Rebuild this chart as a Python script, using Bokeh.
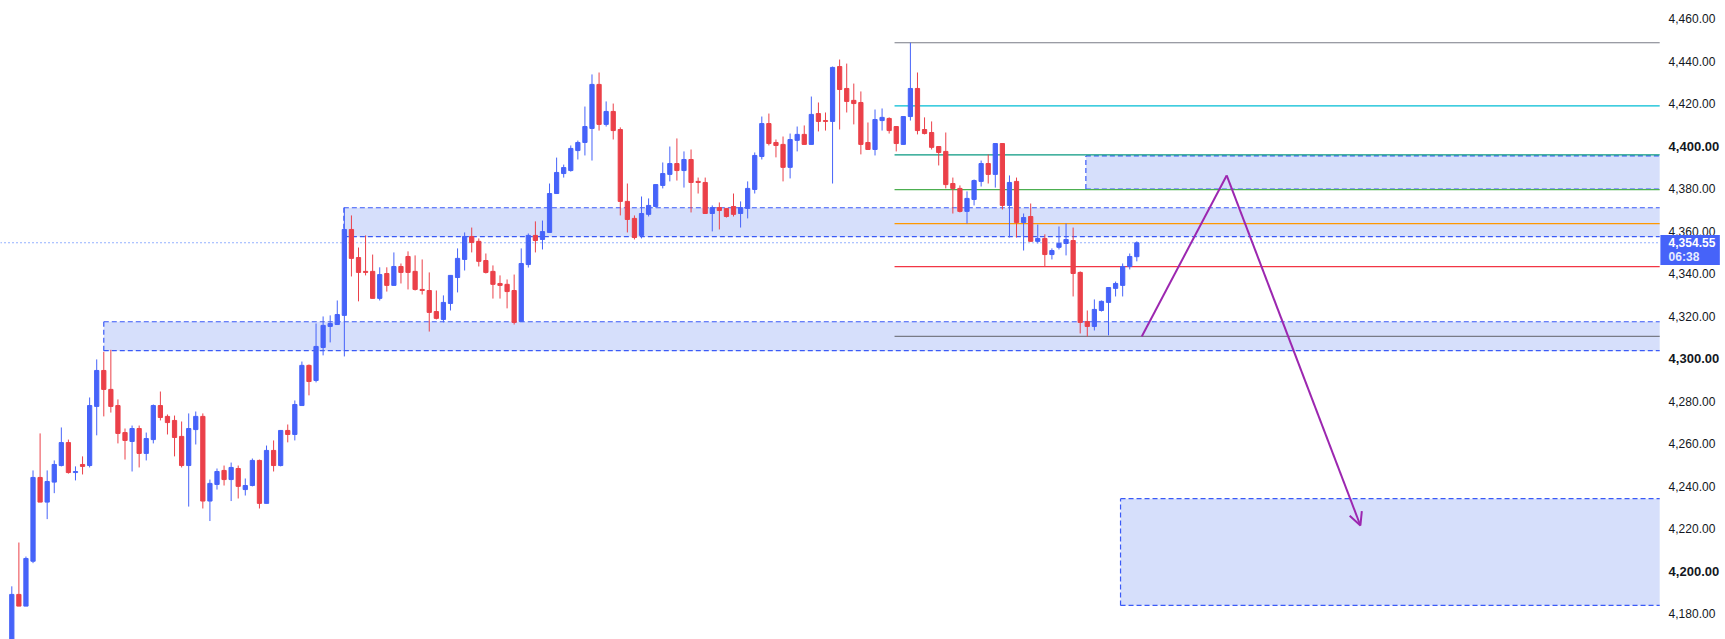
from bokeh.plotting import figure
from bokeh.models import Range1d, Arrow, OpenHead, ColumnDataSource
from bokeh.core.properties import value
from bokeh.embed import file_html
from bokeh.resources import INLINE

# ---------------- data ----------------
opens = [4163.0, 4189.2, 4183.7, 4204.8, 4244.2, 4232.6, 4242.0, 4249.8, 4260.6, 4246.5,
         4250.3, 4249.8, 4277.6, 4294.5, 4285.6, 4278.0, 4265.3, 4261.1, 4267.2, 4255.5,
         4262.0, 4278.0, 4272.9, 4271.0, 4263.5, 4249.8, 4266.7, 4272.9, 4233.1, 4240.9,
         4247.5, 4243.2, 4248.4, 4238.5, 4240.4, 4252.2, 4232.0, 4256.9, 4249.8, 4266.3,
         4264.4, 4278.0, 4296.9, 4289.8, 4305.3, 4315.2, 4316.1, 4320.4, 4360.8, 4347.6,
         4341.1, 4341.1, 4328.4, 4340.1, 4334.5, 4343.4, 4348.1, 4341.1, 4332.6, 4332.1,
         4322.2, 4318.5, 4326.0, 4338.2, 4346.7, 4357.5, 4355.2, 4346.2, 4341.1, 4335.4,
         4335.0, 4332.1, 4317.5, 4344.3, 4358.0, 4356.1, 4359.4, 4377.7, 4387.1, 4388.5,
         4397.9, 4401.7, 4408.3, 4429.0, 4410.2, 4416.3, 4407.8, 4374.0, 4366.0, 4358.0,
         4367.9, 4371.6, 4381.5, 4386.7, 4391.8, 4388.5, 4393.7, 4383.4, 4382.9, 4368.3,
         4371.1, 4370.7, 4371.6, 4368.3, 4370.7, 4379.6, 4395.1, 4410.6, 4401.7, 4400.8,
         4390.0, 4402.7, 4405.5, 4400.8, 4415.3, 4412.0, 4411.6, 4437.4, 4427.1, 4421.5,
         4420.5, 4401.7, 4398.4, 4412.0, 4413.0, 4409.2, 4400.8, 4413.9, 4427.1, 4407.8,
         4406.4, 4399.8, 4397.5, 4382.4, 4380.1, 4369.3, 4374.9, 4383.4, 4391.8, 4386.7,
         4401.2, 4372.1, 4383.4, 4364.1, 4366.9, 4355.2, 4356.6, 4349.0, 4352.4, 4354.2,
         4355.6, 4340.6, 4317.5, 4315.2, 4322.7, 4326.5, 4333.1, 4334.5, 4343.4, 4348.0]
highs = [4193.0, 4213.6, 4207.0, 4247.5, 4264.9, 4247.5, 4252.2, 4267.7, 4262.0, 4249.4,
         4254.1, 4281.8, 4299.7, 4303.3, 4304.2, 4280.9, 4267.2, 4268.6, 4268.6, 4265.3,
         4278.5, 4284.6, 4273.8, 4273.3, 4270.5, 4274.3, 4275.2, 4274.3, 4243.2, 4248.4,
         4249.8, 4251.2, 4249.8, 4243.7, 4253.1, 4252.6, 4259.2, 4261.6, 4266.3, 4269.1,
         4280.4, 4298.7, 4297.3, 4316.6, 4319.9, 4320.4, 4327.4, 4371.1, 4367.4, 4352.3,
         4358.0, 4349.0, 4343.0, 4343.0, 4350.0, 4344.8, 4350.5, 4348.6, 4346.7, 4340.6,
         4332.1, 4329.8, 4339.2, 4351.9, 4359.4, 4361.7, 4356.6, 4349.5, 4343.9, 4339.2,
         4337.3, 4339.6, 4351.9, 4358.9, 4364.6, 4365.0, 4382.4, 4394.6, 4391.3, 4400.3,
         4402.6, 4418.6, 4433.7, 4434.6, 4421.0, 4420.0, 4408.8, 4382.4, 4367.4, 4376.3,
         4375.4, 4381.9, 4392.3, 4399.8, 4403.6, 4397.5, 4398.4, 4385.2, 4385.2, 4372.1,
         4373.5, 4370.7, 4377.7, 4374.0, 4383.4, 4397.0, 4413.9, 4415.3, 4403.1, 4404.5,
         4405.9, 4409.2, 4409.7, 4423.3, 4420.5, 4415.8, 4437.4, 4440.7, 4438.8, 4429.4,
         4425.7, 4411.1, 4417.2, 4417.7, 4413.5, 4409.2, 4414.0, 4448.6, 4434.6, 4413.5,
         4411.6, 4399.8, 4406.4, 4385.2, 4381.5, 4378.7, 4384.3, 4393.2, 4396.1, 4401.2,
         4401.2, 4386.2, 4385.2, 4368.3, 4373.0, 4363.1, 4358.5, 4351.9, 4362.2, 4363.6,
         4361.7, 4341.1, 4322.7, 4327.9, 4327.4, 4333.5, 4336.3, 4344.8, 4349.5, 4355.2]
lows = [4160.0, 4183.7, 4183.7, 4203.9, 4232.6, 4224.6, 4236.8, 4249.4, 4246.0, 4242.8,
        4245.6, 4248.9, 4264.0, 4272.9, 4274.7, 4260.2, 4252.6, 4247.0, 4248.9, 4252.2,
        4260.2, 4271.0, 4264.4, 4254.1, 4248.9, 4230.5, 4259.7, 4229.6, 4223.7, 4238.5,
        4240.4, 4233.1, 4234.3, 4235.7, 4240.0, 4229.6, 4232.0, 4247.0, 4249.4, 4260.7,
        4261.6, 4278.0, 4282.8, 4288.9, 4301.6, 4307.7, 4316.1, 4301.1, 4338.7, 4327.0,
        4339.2, 4328.4, 4327.4, 4331.6, 4334.5, 4335.4, 4332.6, 4332.1, 4330.2, 4312.8,
        4318.5, 4317.1, 4322.7, 4331.2, 4341.5, 4350.0, 4343.4, 4340.1, 4328.3, 4328.3,
        4323.7, 4316.1, 4317.5, 4342.9, 4350.0, 4351.4, 4359.4, 4377.7, 4385.2, 4388.0,
        4393.7, 4395.6, 4393.2, 4407.3, 4409.2, 4403.1, 4367.4, 4359.4, 4356.1, 4356.6,
        4366.9, 4371.1, 4380.1, 4383.4, 4383.8, 4380.5, 4368.8, 4377.7, 4368.3, 4359.9,
        4360.8, 4366.4, 4366.9, 4361.7, 4366.0, 4377.7, 4393.7, 4400.3, 4394.7, 4383.4,
        4384.8, 4397.5, 4400.8, 4400.8, 4406.9, 4407.3, 4382.4, 4407.8, 4415.8, 4410.2,
        4396.1, 4398.4, 4395.6, 4407.3, 4405.9, 4397.5, 4400.8, 4412.0, 4405.5, 4405.5,
        4398.4, 4390.9, 4380.1, 4368.3, 4368.8, 4363.6, 4372.1, 4381.0, 4382.4, 4380.5,
        4370.2, 4357.0, 4357.0, 4350.9, 4355.2, 4354.2, 4343.4, 4346.7, 4351.4, 4348.6,
        4329.3, 4311.9, 4310.5, 4313.3, 4322.2, 4311.0, 4329.3, 4329.3, 4342.0, 4345.8]
closes = [4189.2, 4183.7, 4206.1, 4244.2, 4232.6, 4242.3, 4250.3, 4260.6, 4246.5, 4247.0,
          4249.4, 4278.0, 4294.5, 4285.6, 4277.6, 4264.9, 4261.6, 4267.2, 4255.5, 4262.5,
          4278.0, 4272.4, 4270.0, 4263.0, 4249.8, 4267.2, 4272.9, 4233.1, 4241.4, 4247.0,
          4243.2, 4248.9, 4240.0, 4240.4, 4252.2, 4232.0, 4256.9, 4249.8, 4266.3, 4264.4,
          4278.5, 4296.9, 4289.3, 4305.8, 4315.7, 4316.6, 4320.8, 4360.8, 4347.2, 4340.6,
          4340.6, 4328.4, 4339.6, 4334.5, 4343.4, 4340.6, 4340.6, 4332.6, 4332.1, 4321.8,
          4319.0, 4326.5, 4339.2, 4347.2, 4357.5, 4354.7, 4345.8, 4340.6, 4335.0, 4334.5,
          4331.6, 4317.1, 4344.8, 4358.0, 4355.6, 4359.8, 4377.7, 4387.6, 4389.9, 4398.9,
          4401.7, 4409.2, 4429.0, 4410.2, 4416.3, 4407.3, 4374.0, 4365.5, 4357.0, 4368.3,
          4372.1, 4381.9, 4387.1, 4391.8, 4388.5, 4393.7, 4382.9, 4382.9, 4368.3, 4371.1,
          4369.7, 4366.9, 4367.9, 4371.1, 4380.1, 4395.6, 4410.6, 4401.2, 4400.3, 4390.0,
          4403.1, 4405.5, 4400.8, 4414.9, 4411.6, 4411.6, 4437.0, 4426.6, 4421.0, 4420.0,
          4400.8, 4398.4, 4412.5, 4413.5, 4407.3, 4401.2, 4413.9, 4427.1, 4407.3, 4405.9,
          4399.4, 4397.0, 4381.9, 4380.1, 4369.3, 4375.4, 4383.8, 4391.8, 4386.7, 4401.2,
          4372.1, 4382.9, 4364.1, 4366.4, 4355.2, 4356.6, 4349.0, 4350.9, 4354.3, 4356.1,
          4340.1, 4317.1, 4315.2, 4323.2, 4327.0, 4333.5, 4335.4, 4343.4, 4348.1, 4354.55]

# Fibonacci retracement levels (price)
fib_levels = [4448.6, 4418.9, 4395.9, 4379.5, 4363.5, 4343.3, 4310.5]
fib_colors = ["#787b86", "#00bcd4", "#089981", "#4caf50", "#ff9800", "#f23645", "#787b86"]
fib_start = 124.76

# Rectangular zones: left bar index, bottom price, top price (they run to the price scale)
zone_left = [13.0, 46.93, 151.8, 156.7]
zone_bottom = [4303.8, 4357.4, 4379.8, 4184.0]
zone_top = [4317.4, 4371.0, 4395.4, 4234.2]

# Projection path (bar index, price)
path_x = [159.7, 171.7, 190.6]
path_y = [4310.5, 4386.2, 4221.6]

last_price = 4354.55
last_price_text = "4,354.55"
countdown = "06:38"
price_ticks = [4180, 4200, 4220, 4240, 4260, 4280, 4300, 4320, 4340, 4360,
               4380, 4400, 4420, 4440, 4460]
bold_ticks = [4200, 4300, 4400]

# ---------------- layout constants ----------------
UP = "#4663f9"
DOWN = "#eb4049"
ZONE_FILL = "#d6dffb"
ZONE_LINE = "#3a5af7"
X0, X1 = -1.597, 242.2          # bar-index range of the canvas
X_EDGE = 232.9                  # right edge of the chart pane (price scale starts here)
LABEL_X = 234.16                # left of the price-scale labels
TAG_LEFT, TAG_RIGHT = 233.0, 241.4

n = len(closes)
idx = list(range(n))
colors = [UP if c >= o else DOWN for o, c in zip(opens, closes)]
body_top = [max(o, c) for o, c in zip(opens, closes)]
body_bot = [min(o, c) for o, c in zip(opens, closes)]

src = ColumnDataSource(dict(x=idx, o=opens, h=highs, l=lows, c=closes,
                            top=body_top, bot=body_bot, color=colors))

p = figure(width=1725, height=639, output_backend="svg", toolbar_location=None,
           x_axis_location=None, y_axis_location=None,
           x_range=Range1d(X0, X1), y_range=Range1d(4168.0, 4468.46),
           min_border_left=0, min_border_top=0, min_border_bottom=0, min_border_right=0,
           background_fill_color="white", border_fill_color="white")
p.outline_line_color = None
p.grid.visible = False

# zones (fill, then dashed top / bottom / left borders)
nz = len(zone_left)
p.quad(left=zone_left, right=[X_EDGE] * nz, bottom=zone_bottom, top=zone_top,
       fill_color=ZONE_FILL, line_color=None)
p.segment(x0=zone_left + zone_left + zone_left,
          x1=[X_EDGE] * nz + [X_EDGE] * nz + zone_left,
          y0=zone_top + zone_bottom + zone_bottom,
          y1=zone_top + zone_bottom + zone_top,
          line_color=ZONE_LINE, line_dash="5 3", line_width=1.2)

# fib lines
p.segment(x0=[fib_start] * len(fib_levels), x1=[X_EDGE] * len(fib_levels),
          y0=fib_levels, y1=fib_levels, line_color=fib_colors, line_width=1.2)

# last price dotted line
p.segment(x0=[X0], x1=[X_EDGE], y0=[last_price], y1=[last_price],
          line_color="#2962ff", line_dash="1 3", line_width=1.2)

# candles
p.segment(x0="x", y0="l", x1="x", y1="h", line_color="color", line_width=1, source=src)
p.vbar(x="x", width=0.6, top="top", bottom="bot", fill_color="color",
       line_color="color", line_width=1, source=src)

# projection path
p.line(x=path_x[:2], y=path_y[:2], line_color="#9c27b0", line_width=2)
p.add_layout(Arrow(end=OpenHead(size=13, line_color="#9c27b0", line_width=2),
                   x_start=path_x[1], y_start=path_y[1], x_end=path_x[2], y_end=path_y[2],
                   line_color="#9c27b0", line_width=2))

# price scale labels
reg = [t for t in price_ticks if t not in bold_ticks]
p.text(x=[LABEL_X] * len(reg), y=reg, text=[f"{t:,.2f}" for t in reg],
       text_font=value("Liberation Sans"), text_font_size="12px", text_color="#131722",
       text_align="left", text_baseline="middle")
p.text(x=[LABEL_X] * len(bold_ticks), y=bold_ticks, text=[f"{t:,.2f}" for t in bold_ticks],
       text_font=value("Liberation Sans"), text_font_size="13px", text_font_style="bold",
       text_color="#131722", text_align="left", text_baseline="middle")

# last price tag
p.quad(left=[TAG_LEFT], right=[TAG_RIGHT], top=[last_price + 3.6], bottom=[last_price - 10.5],
       fill_color=UP, line_color=None)
p.text(x=[LABEL_X], y=[last_price], text=[last_price_text],
       text_font=value("Liberation Sans"), text_font_size="12px", text_font_style="bold",
       text_color="white", text_align="left", text_baseline="middle")
p.text(x=[LABEL_X], y=[last_price], y_offset=14, text=[countdown],
       text_font=value("Liberation Sans"), text_font_size="12px", text_font_style="bold",
       text_color="#e8ecff", text_align="left", text_baseline="middle")

open("out.html", "w").write(file_html(p, INLINE))
